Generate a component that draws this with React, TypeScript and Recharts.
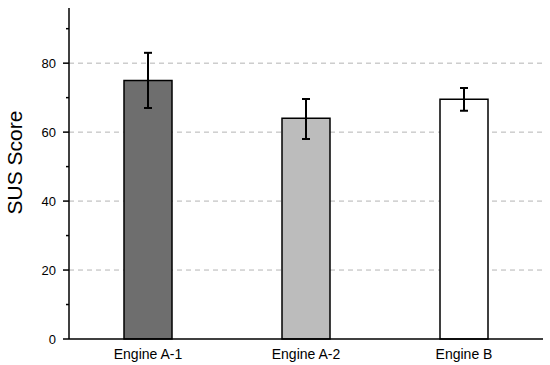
import { BarChart, Bar, XAxis, YAxis, CartesianGrid, ErrorBar, Cell } from "recharts";

const engines = ["Engine A-1", "Engine A-2", "Engine B"];
const susMeans = [75, 64, 69.5];
const susErrLow = [8, 6, 3.3];
const susErrHigh = [8, 5.6, 3.3];
const yTicks = [0, 10, 20, 30, 40, 50, 60, 70, 80, 90];

const barFills = ["#6e6e6e", "#bcbcbc", "#ffffff"];
const FONT = "'Liberation Sans', Arial, sans-serif";

const chartData = engines.map((name, i) => ({
  name,
  score: susMeans[i],
  err: [susErrLow[i], susErrHigh[i]],
}));

function YTick(props: any) {
  const { x, y, payload } = props;
  const v = payload.value;
  const major = v % 20 === 0;
  const ax = x + 13; // tickSize 6 + tickMargin 7
  return (
    <g>
      <line x1={ax} x2={ax - (major ? 6 : 3)} y1={y} y2={y} stroke="#000" strokeWidth={1.5} />
      {major && (
        <text x={x} y={y} dy={4.5} textAnchor="end" fontSize={13} fontFamily={FONT} fill="#000">
          {v}
        </text>
      )}
    </g>
  );
}

function YLabel(props: any) {
  const { viewBox } = props;
  const cx = viewBox.x + 22;
  const cy = viewBox.y + viewBox.height / 2 - 11;
  return (
    <text
      x={cx}
      y={cy}
      transform={`rotate(-90 ${cx} ${cy})`}
      textAnchor="middle"
      fontSize={21}
      fontFamily={FONT}
      fill="#000"
    >
      SUS Score
    </text>
  );
}

export default function App() {
  return (
    <div style={{ position: "absolute", left: 0, top: 0, width: 550, height: 365, background: "#fff" }}>
      <BarChart
        width={550}
        height={365}
        data={chartData}
        margin={{ top: 8, right: 7, left: 0, bottom: 0 }}
      >
        <CartesianGrid
          vertical={false}
          horizontalValues={[20, 40, 60, 80]}
          stroke="#b4b4b4"
          strokeDasharray="5 4"
        />
        <XAxis
          dataKey="name"
          height={26}
          axisLine={{ stroke: "#000", strokeWidth: 1.5 }}
          tickLine={false}
          tickSize={0}
          tickMargin={10}
          tick={{ fill: "#000", fontSize: 14, fontFamily: FONT }}
        />
        <YAxis
          width={69}
          domain={[0, 96]}
          ticks={yTicks}
          interval={0}
          axisLine={{ stroke: "#000", strokeWidth: 1.5 }}
          tickLine={false}
          tickSize={6}
          tickMargin={7}
          tick={<YTick />}
          label={<YLabel />}
        />
        <Bar dataKey="score" barSize={48} stroke="#000" strokeWidth={1.5} isAnimationActive={false}>
          {chartData.map((d, i) => (
            <Cell key={d.name} fill={barFills[i]} />
          ))}
          <ErrorBar dataKey="err" width={4} stroke="#000" strokeWidth={2} isAnimationActive={false} />
        </Bar>
      </BarChart>
    </div>
  );
}
